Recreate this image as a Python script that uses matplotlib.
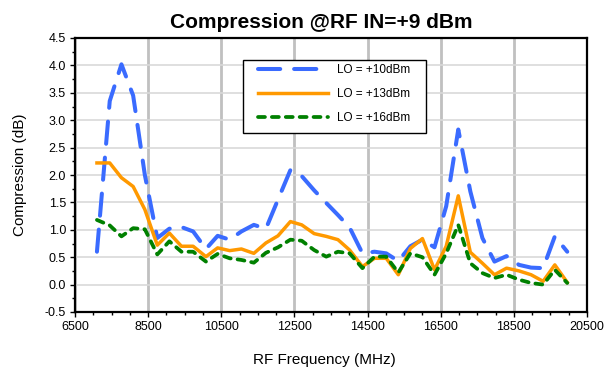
import matplotlib
matplotlib.use('Agg')
import matplotlib.pyplot as plt
from matplotlib.patches import Rectangle
from matplotlib.ticker import MultipleLocator

plt.rcParams['font.family'] = ['Liberation Sans', 'DejaVu Sans']
plt.rcParams['lines.scale_dashes'] = False

# RF frequency (MHz)
freq = [7100, 7450, 7770, 8090, 8410, 8750, 9080, 9410, 9730, 10080,
        10400, 10730, 11050, 11390, 11720, 12050, 12390, 12700, 13040, 13370,
        13690, 14010, 14360, 14690, 15010, 15340, 15670, 16000, 16330, 16650,
        16980, 17310, 17640, 17970, 18300, 18640, 18970, 19300, 19620, 19960]

# compression (dB) per LO drive
lo10 = [0.60, 3.35, 4.02, 3.45, 2.00, 0.85, 1.02, 1.05, 0.97, 0.65,
        0.89, 0.82, 0.97, 1.09, 1.02, 1.55, 2.09, 1.98, 1.72, 1.49,
        1.27, 1.04, 0.57, 0.60, 0.57, 0.43, 0.70, 0.82, 0.68, 1.43,
        2.83, 1.70, 0.85, 0.42, 0.52, 0.36, 0.31, 0.30, 0.88, 0.60]
lo13 = [2.22, 2.22, 1.95, 1.79, 1.37, 0.72, 0.94, 0.70, 0.70, 0.51,
        0.67, 0.62, 0.65, 0.57, 0.76, 0.89, 1.15, 1.09, 0.93, 0.88,
        0.82, 0.63, 0.33, 0.48, 0.48, 0.18, 0.66, 0.84, 0.27, 0.70,
        1.62, 0.59, 0.39, 0.18, 0.30, 0.25, 0.18, 0.06, 0.36, 0.04]
lo16 = [1.18, 1.08, 0.88, 1.03, 1.01, 0.55, 0.79, 0.60, 0.60, 0.42,
        0.56, 0.48, 0.45, 0.40, 0.58, 0.68, 0.82, 0.80, 0.63, 0.51,
        0.60, 0.57, 0.30, 0.51, 0.51, 0.22, 0.57, 0.50, 0.18, 0.57,
        1.09, 0.39, 0.21, 0.12, 0.18, 0.09, 0.03, 0.00, 0.27, 0.03]

labels = ['LO = +10dBm', 'LO = +13dBm', 'LO = +16dBm']
xticks = [6500, 8500, 10500, 12500, 14500, 16500, 18500, 20500]

fig = plt.figure(figsize=(6.13, 3.77), dpi=100)
ax = fig.add_axes([75/613, 1-312/377, 512/613, 274/377])

ax.plot(freq, lo10, color='#3a6bff', lw=2.9, ls=(0, (16, 10)),
        dash_capstyle='round', solid_joinstyle='round', label=labels[0], zorder=3)
ax.plot(freq, lo13, color='#ff9900', lw=2.5, solid_joinstyle='round',
        label=labels[1], zorder=3)
ax.plot(freq, lo16, color='#008000', lw=2.7, ls=(0, (5, 5)),
        dash_capstyle='round', label=labels[2], zorder=3)

ax.set_xlim(6500, 20500)
ax.set_ylim(-0.5, 4.5)
ax.set_xticks(xticks)
ax.xaxis.set_minor_locator(MultipleLocator(500))
ax.yaxis.set_major_locator(MultipleLocator(0.5))
ax.yaxis.set_minor_locator(MultipleLocator(0.25))
ax.yaxis.set_major_formatter(plt.FormatStrFormatter('%.1f'))
ax.tick_params(which='major', direction='out', length=3.5, width=1, labelsize=9, pad=3)
ax.tick_params(which='minor', direction='out', length=2.5, width=1)

ax.grid(axis='x', which='major', color='#c0c0c0', lw=2)
ax.grid(axis='y', which='major', color='#d9d9d9', lw=1.2)
ax.set_axisbelow(True)
for s in ax.spines.values():
    s.set_linewidth(1.6)
    s.set_zorder(5)

# legend box
ax.add_patch(Rectangle((0.328, 0.654), 0.358, 0.266, transform=ax.transAxes,
                       fc='white', ec='black', lw=1, zorder=4))
leg = ax.legend(loc='upper left', bbox_to_anchor=(0.358, 0.905), frameon=False,
                fontsize=8.5, handlelength=5.9, handletextpad=0.75,
                labelspacing=1.0, borderpad=0, borderaxespad=0)
leg.set_zorder(6)

fig.text(321/613, 1-23/377, 'Compression @RF IN=+9 dBm', ha='center', va='center',
         fontsize=15, fontweight='bold')
fig.text(324/613, 1-360/377, 'RF Frequency (MHz)', ha='center', va='center', fontsize=11)
fig.text(20/613, 1-175/377, 'Compression (dB)', ha='center', va='center',
         rotation=90, fontsize=11)

fig.savefig('out.png', dpi=100)
